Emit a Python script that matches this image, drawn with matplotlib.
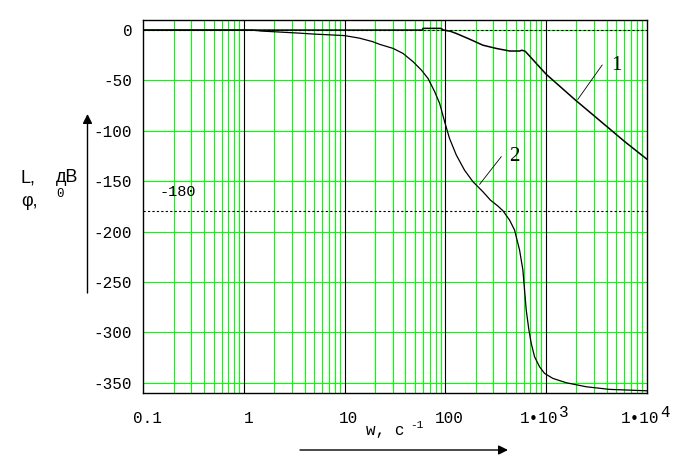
import numpy as np
import matplotlib
matplotlib.use("Agg")
import matplotlib.pyplot as plt

# curve 1: L(w), dB
w_L = [0.1, 59, 60, 90, 96, 112, 128, 174, 236, 320, 436, 546, 576, 621,
       1000, 1960, 3080, 6100, 10000]
L_vals = [0, 0, 1.7, 1.7, 0, -1.2, -3.3, -9, -15, -18.2, -20.8, -20.8, -20,
          -21, -43.7, -69.5, -86, -111, -128]

# curve 2: phi(w), degrees
w_phi = [0.1, 1.2, 1.5, 2.3, 3.5, 5, 8, 10, 14, 19, 22.3, 30.3, 38, 47.8,
         57.8, 67.3, 78.4, 87.8, 98.4, 110, 128.5, 155, 188, 236, 280, 333,
         373, 434, 487, 546, 589, 612, 636, 676, 713, 769, 862, 966, 1169,
         1586, 2505, 4266, 10000]
phi_vals = [0, 0, -1, -2, -3, -4, -5, -5.5, -8, -11.5, -14.2, -18.2, -23.2,
            -31.4, -39.7, -48, -61.2, -72.8, -91, -107.5, -124, -139, -150.5,
            -160.4, -168.7, -174.7, -179.3, -188.5, -198.5, -218.3, -238,
            -258, -277.9, -297.7, -310.9, -324.2, -334.1, -340.7, -345.7,
            -350, -354, -356.6, -358]

x_ticks = [0.1, 1, 10, 100, 1000, 10000]
x_labels = ["0.1", "1", "10", "100", "1•10", "1•10"]
x_powers = ["", "", "", "", "3", "4"]
y_ticks = [0, -50, -100, -150, -200, -250, -300, -350]
phase_ref = -180

GREEN = "#00ff00"
MONO = ["Liberation Mono", "DejaVu Sans Mono"]

W, H = 688, 455
fig = plt.figure(figsize=(W / 100, H / 100), dpi=100)
ax = fig.add_axes([143.3 / W, 1 - 393.3 / H, 503.4 / W, 373.3 / H])


def fpx(x, y):
    return x / W, 1 - y / H


ax.set_xscale("log")
ax.set_xlim(0.1, 1e4)
ax.set_ylim(-360.5, 10)

# grid: green minor decades, black decade lines, green horizontal
for dec in [0.1, 1, 10, 100, 1000]:
    for k in range(2, 10):
        ax.axvline(dec * k, color=GREEN, lw=0.8, zorder=1)
for dec in [1, 10, 100, 1000]:
    ax.axvline(dec, color="black", lw=0.8, zorder=1.5)
for yv in y_ticks:
    ax.axhline(yv, color=GREEN, lw=0.8, zorder=1)

ax.axhline(0, color="black", lw=0.8, ls=(0, (2, 2)), zorder=2)
ax.axhline(phase_ref, color="black", lw=0.8, ls=(0, (2, 2)), zorder=2)
ax.text(0.22, -161, "-180", fontsize=11, family=MONO, ha="center", va="center")

ax.plot(w_L, L_vals, color="black", lw=1.1, zorder=3)
ax.plot(w_phi, phi_vals, color="black", lw=0.9, zorder=3)

# curve numbers
ax.plot([2068, 3610], [-68.8, -34.7], color="black", lw=0.6, zorder=3)
ax.text(5000, -34.7, "1", fontsize=15, family=["Liberation Serif"],
        ha="center", va="center")
ax.plot([219, 359], [-153.1, -125.7], color="black", lw=0.6, zorder=3)
ax.text(487, -125, "2", fontsize=15, family=["Liberation Serif"],
        ha="center", va="center")

# x tick labels with full-size raised powers
ax.set_xticks(x_ticks)
ax.set_xticklabels([])
ax.minorticks_off()
for xv, lab, pw in zip(x_ticks, x_labels, x_powers):
    shift = -5 if pw else 3
    ax.annotate(lab, xy=(xv, 0), xycoords=("data", "axes fraction"),
                xytext=(shift, -18), textcoords="offset points",
                fontsize=11.5, family=MONO, ha="center", va="center")
    if pw:
        ax.annotate(pw, xy=(xv, 0), xycoords=("data", "axes fraction"),
                    xytext=(13, -14), textcoords="offset points",
                    fontsize=11.5, family=MONO, ha="center", va="center")

ax.set_yticks(y_ticks)
ax.set_yticklabels([str(v) for v in y_ticks])
ax.tick_params(length=0, labelsize=11.5)
ax.tick_params(axis="y", pad=8)
for lab in ax.get_yticklabels():
    lab.set_family(MONO)
for sp in ax.spines.values():
    sp.set_linewidth(1.0)

# axis labels and arrows
fig.text(*fpx(21, 178), "L,", fontsize=13, family=["Liberation Sans"],
         ha="left", va="center")
fig.text(*fpx(56, 178), "дB", fontsize=13, family=["Liberation Sans"],
         ha="left", va="center")
fig.text(*fpx(21, 201), "φ,", fontsize=13, family=["Liberation Sans", "DejaVu Sans"],
         ha="left", va="center")
fig.text(*fpx(56, 194), "0", fontsize=9, family=MONO, ha="left", va="center")
fig.text(*fpx(366, 431), "w, с", fontsize=11.5, family=MONO,
         ha="left", va="center")
fig.text(*fpx(410, 425), "-1", fontsize=8, family=MONO,
         ha="left", va="center")

arrow = dict(arrowstyle="-|>", lw=1.0, color="black", mutation_scale=14,
             shrinkA=0, shrinkB=0)
fig.add_artist(matplotlib.patches.FancyArrowPatch(
    fpx(87.5, 293), fpx(87.5, 114), transform=fig.transFigure, **arrow))
fig.add_artist(matplotlib.patches.FancyArrowPatch(
    fpx(300, 450), fpx(508, 450), transform=fig.transFigure, **arrow))

fig.savefig("out.png", dpi=100, facecolor="white")
